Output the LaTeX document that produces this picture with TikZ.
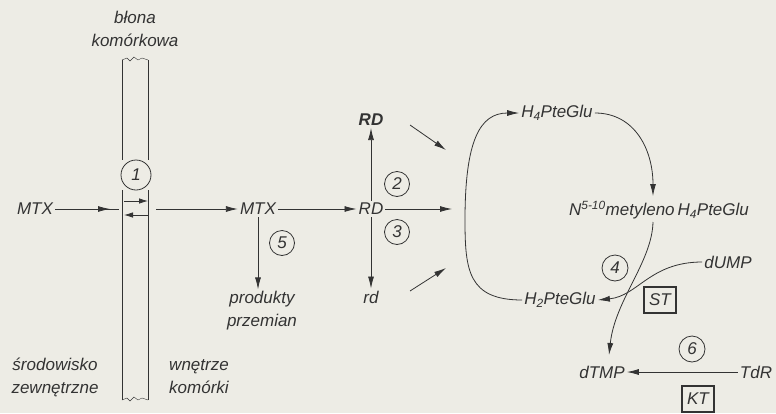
\documentclass[tikz,border=0pt]{standalone}
\usepackage{fontspec}
\setmainfont{Liberation Sans}
\usepackage{xcolor}
\usetikzlibrary{arrows.meta}
\definecolor{paper}{HTML}{EDECE5}
\definecolor{ink}{HTML}{333333}

\begin{document}
\begin{tikzpicture}[x=1pt,y=-1pt,
  every node/.style={font=\fontsize{17}{23}\selectfont\itshape, text=ink, inner sep=2pt},
  ln/.style={draw=ink, line width=0.8pt},
  arr/.style={ln, -{Latex[length=12pt,width=6pt]}},
  sarr/.style={ln, -{Latex[length=9pt,width=5.5pt]}},
  num/.style={circle, draw=ink, line width=0.8pt, minimum size=28pt, inner sep=0pt},
  enz/.style={draw=ink, line width=1.3pt, minimum width=32pt, minimum height=26pt, inner sep=1pt}]
\fill[paper] (0,0) rectangle (776,413);
\useasboundingbox (0,0) rectangle (776,413);

% membrane
\node (blona) at (135,29) [align=center] {błona\\komórkowa};
\node[num, minimum size=30pt] (n1) at (136,175) {1};
\draw[ln, line width=1pt] (122,60) -- (122,160) (122,190) -- (122,400);
\draw[ln, line width=1pt] (148,60) -- (148,160) (148,190) -- (148,400);
\draw[ink, line width=0.4pt] (122,60) -- (127,58) -- (130,61) -- (134,57) -- (138,60) -- (142,58) -- (148,60);
\draw[ink, line width=0.4pt] (122,400) -- (127,398) -- (130,401) -- (134,397) -- (138,400) -- (142,398) -- (148,400);
\draw[sarr] (124,201) -- (148,201);
\draw[sarr] (148,215) -- (124,215);
\node (zew) at (55,377) [align=center] {środowisko\\zewnętrzne};
\node (wew) at (199,377) [align=center] {wnętrze\\komórki};

% MTX
\node (mtxout) at (35,209) {MTX};
\coordinate (memL) at (119,209);
\coordinate (midL) at (110,209);
\coordinate (memR) at (156,209);
\draw[ln] (mtxout) -- (memL);
\draw[arr] (mtxout) -- (midL);
\node (mtxin) at (258,209) {MTX};
\draw[arr] (memR) -- (mtxin);
\node (prod) at (262,311) [align=center] {produkty\\przemian};
\draw[arr] (mtxin) -- (mtxin |- prod.north);
\node[num, minimum size=25pt] (n5) at (282,243) {5};

% RD
\node (rd) at (371,209) {RD};
\node (rdup) at (371,120) {\bfseries RD};
\node (rdlow) at (371,297) {rd};
\draw[arr] (mtxin) -- (rd);
\draw[arr] (rd) -- (rdup);
\draw[arr] (rd) -- (rdlow);
\node[num, minimum size=25pt] (n2) at (397,184) {2};
\node[num, minimum size=25pt] (n3) at (397,232) {3};
\coordinate (cyc) at (452,209);
\draw[arr] (rd) -- (cyc);
\coordinate (d1a) at (410,125);
\coordinate (d1b) at (446,150);
\coordinate (d2a) at (410,291);
\coordinate (d2b) at (446,268);
\draw[arr] (d1a) -- (d1b);
\draw[arr] (d2a) -- (d2b);

% folate cycle
\node (h4) at (557,113) {H\textsubscript{4}PteGlu};
\node (nmet) at (659,210) {N\textsuperscript{5-10}metyleno\,H\textsubscript{4}PteGlu};
\node (h2) at (560,300) {H\textsubscript{2}PteGlu};
\node (dump) at (728,262) {dUMP};
\node (dtmp) at (602,372) {dTMP};
\node (tdr) at (756,372) {TdR};
\node[num, minimum size=26pt] (n4) at (615,268) {4};
\node[num, minimum size=26pt] (n6) at (692,349) {6};
\node[enz] (st) at (660,300) {ST};
\node[enz] (kt) at (698,399) {KT};
\draw[arr] (h2.west) .. controls (468,300) and (465,270) .. (465,220)
  .. controls (465,140) and (480,113) .. (h4.west);
\draw[arr] (h4.east) .. controls (635,113) and (653,150) .. (653,196);
\draw[arr] (653,222) .. controls (652,262) and (615,300) .. (609,355);
\draw[arr] (dump.west) .. controls (650,262) and (638,296) .. (h2.east);
\draw[arr] (tdr.west) -- (dtmp.east);
\end{tikzpicture}
\end{document}
